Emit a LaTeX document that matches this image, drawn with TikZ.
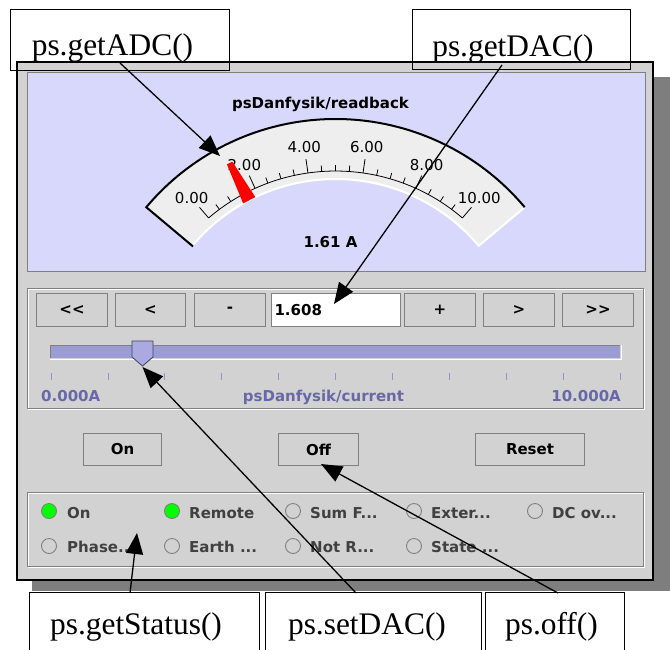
\documentclass[tikz,border=0pt]{standalone}
\usepackage{fontspec}
\setmainfont{Liberation Serif}
\newfontfamily\guifont{DejaVu Sans}
\usetikzlibrary{arrows.meta}
\definecolor{winbg}{RGB}{210,210,210}
\definecolor{meterbg}{RGB}{216,216,252}
\definecolor{bandbg}{RGB}{238,238,238}
\definecolor{trackbg}{RGB}{156,156,212}
\definecolor{thumbbg}{RGB}{170,170,224}
\definecolor{thumbedge}{RGB}{64,64,96}
\definecolor{slidertext}{RGB}{104,104,168}
\definecolor{ledtext}{RGB}{64,64,64}
\definecolor{edgegray}{RGB}{128,128,128}
\definecolor{shadowgray}{RGB}{126,126,126}
\definecolor{ledgreen}{RGB}{0,255,0}

\tikzset{
  callout/.style={draw, line width=1.4pt, inner sep=0pt, anchor=north west},
  calltext/.style={font=\fontsize{31.4}{36}\selectfont, inner sep=0pt, anchor=base},
  pointer/.style={line width=1.3pt, -{Triangle[length=21pt,width=17pt]}},
  guibold/.style={font=\guifont\bfseries\fontsize{15}{18}\selectfont, inner sep=0pt},
  btn/.style={guibold, draw=edgegray, fill=winbg, line width=1pt, anchor=north west},
  scalelbl/.style={font=\guifont\fontsize{15}{18}\selectfont, inner sep=0pt},
  radio/.style={circle, draw=edgegray, fill=winbg, line width=0.9pt, minimum size=15pt, inner sep=0pt},
  radioon/.style={radio, fill=ledgreen},
  ledlbl/.style={guibold, text=ledtext, anchor=base west},
  sunken/.style={draw=edgegray, line width=1pt}
}

\begin{document}
\begin{tikzpicture}[x=1pt,y=-1pt]
\clip (0,0) rectangle (670,649);
\fill[white] (0,0) rectangle (670,649);

\fill[shadowgray] (32,77) rectangle (670,591);
\draw[fill=winbg, line width=2pt] (17,62) rectangle (653,580);

\draw[edgegray, fill=meterbg] (27,72) rectangle (645,271);
\node[guibold, anchor=base] (title) at (320.5,108) {psDanfysik/readback};

\begin{scope}[shift={(335.5,366)}]
  \fill[bandbg] (140:247pt) arc[start angle=140, end angle=40, radius=247pt]
    -- (40:186pt) arc[start angle=40, end angle=140, radius=186pt] -- cycle;
  \draw[white, line width=2pt] (40:247pt) -- (40:187pt)
    arc[start angle=40, end angle=140, radius=187pt];
  \draw[line width=2pt] (40:247pt) arc[start angle=40, end angle=140, radius=247pt]
    -- (140:186pt);
  \draw[line width=0.8pt] (130.6:195pt) arc[start angle=130.6, end angle=49.4, radius=195pt];
  \foreach \i in {0,...,20}{
    \pgfmathsetmacro\tickang{130.6-4.06*\i}
    \pgfmathsetmacro\ticktop{ifthenelse(mod(\i,4)==0,209,201)}
    \draw[line width=0.8pt] (\tickang:195pt) -- (\tickang:\ticktop pt);
  }
  \foreach \v in {0,2,4,6,8,10}{
    \pgfmathsetmacro\lblang{130.6-8.12*\v}
    \node[scalelbl] (scale\v) at (\lblang:221pt) {\v.00};
  }
  \fill[red] (119.6:187pt) -- (115.4:187pt) -- (116.8:229pt) -- (118.3:229pt) -- cycle;
\end{scope}

\node[guibold, anchor=base] (reading) at (330.5,247) {1.61 A};

\draw[white] (28,289) rectangle (644,409);
\draw[sunken] (27,288) rectangle (643,408);

\node[btn, minimum width=71pt, minimum height=33pt] (fastdown) at (36,293) {<<};
\node[btn, minimum width=70pt, minimum height=33pt] (slowdown) at (115,293) {<};
\node[btn, minimum width=71pt, minimum height=33pt] (stepdown) at (194,293) {-};
\node[btn, fill=white, minimum width=129pt, minimum height=33pt,
  text width=123pt, align=left] (valuebox) at (271,293) {1.608};
\node[btn, minimum width=71pt, minimum height=33pt] (stepup) at (404,293) {+};
\node[btn, minimum width=71pt, minimum height=33pt] (slowup) at (483,293) {>};
\node[btn, minimum width=71pt, minimum height=33pt] (fastup) at (562,293) {>>};

\fill[trackbg] (50,345) rectangle (620,358);
\draw[edgegray] (50,358) -- (50,345) -- (620,345);
\draw[white] (50,359) -- (621,359) -- (621,345);
\foreach \i in {0,...,10}
  \draw[slidertext!70, line width=0.8pt] ({51+56.9*\i},373) -- ++(0,7);
\draw[fill=thumbbg, draw=thumbedge, line width=0.8pt]
  (132,341) -- (153,341) -- (153,357) -- (142.5,366) -- (132,357) -- cycle;

\node[guibold, text=slidertext, anchor=base west] (lowlbl) at (41,401) {0.000A};
\node[guibold, text=slidertext, anchor=base] (chanlbl) at (323.5,401) {psDanfysik/current};
\node[guibold, text=slidertext, anchor=base east] (highlbl) at (621,401) {10.000A};

\node[btn, minimum width=78pt, minimum height=32pt] (onbtn) at (83,433) {On};
\node[btn, minimum width=80pt, minimum height=32pt] (offbtn) at (278,433) {Off};
\node[btn, minimum width=109pt, minimum height=32pt] (resetbtn) at (475,433) {Reset};

\draw[white] (28,493) rectangle (644,567);
\draw[sunken] (27,492) rectangle (643,566);

\node[radioon] (ledon) at (49,511) {};
\node[ledlbl] at (67,518) {On};
\node[radioon] (ledremote) at (172,511) {};
\node[ledlbl] at (189,518) {Remote};
\node[radio] (ledsum) at (293,511) {};
\node[ledlbl] at (310,518) {Sum F...};
\node[radio] (ledext) at (414,511) {};
\node[ledlbl] at (431,518) {Exter...};
\node[radio] (leddc) at (535,511) {};
\node[ledlbl] at (552,518) {DC ov...};
\node[radio] (ledphase) at (49,546) {};
\node[ledlbl] at (67,552) {Phase...};
\node[radio] (ledearth) at (172,546) {};
\node[ledlbl] at (189,552) {Earth ...};
\node[radio] (lednotr) at (293,546) {};
\node[ledlbl] at (310,552) {Not R...};
\node[radio] (ledstate) at (414,546) {};
\node[ledlbl] at (431,552) {State ...};

\node[callout, minimum width=219pt, minimum height=61pt] (adcbox) at (10,9) {};
\node[calltext] (adctext) at (112.5,55) {ps.getADC()};
\node[callout, minimum width=218pt, minimum height=60pt] (dacbox) at (412,9) {};
\node[calltext] (dactext) at (513,56) {ps.getDAC()};

\node[callout, minimum width=230pt, minimum height=80pt] (statusbox) at (29,592) {};
\node[calltext] (statustext) at (136,634) {ps.getStatus()};
\node[callout, minimum width=216pt, minimum height=80pt] (setbox) at (265,592) {};
\node[calltext] (settext) at (367,634) {ps.setDAC()};
\node[callout, minimum width=139pt, minimum height=80pt] (offbox) at (485,592) {};
\node[calltext] (offtext) at (551.5,634) {ps.off()};

\coordinate (adcfoot) at (120,63);
\coordinate (needletop) at (220,156);
\coordinate (dacfoot) at (502,65);
\coordinate (fieldtip) at (334,304);
\coordinate (statusfoot) at (130,593);
\coordinate (ledtip) at (137,533);
\coordinate (setfoot) at (356,593);
\coordinate (thumbtip) at (142.5,367);
\coordinate (offfoot) at (558,593);
\coordinate (offtip) at (321,464);

\draw[pointer] (adcfoot) -- (needletop);
\draw[pointer] (dacfoot) -- (fieldtip);
\draw[pointer] (statusfoot) -- (ledtip);
\draw[pointer] (setfoot) -- (thumbtip);
\draw[pointer] (offfoot) -- (offtip);
\end{tikzpicture}
\end{document}
